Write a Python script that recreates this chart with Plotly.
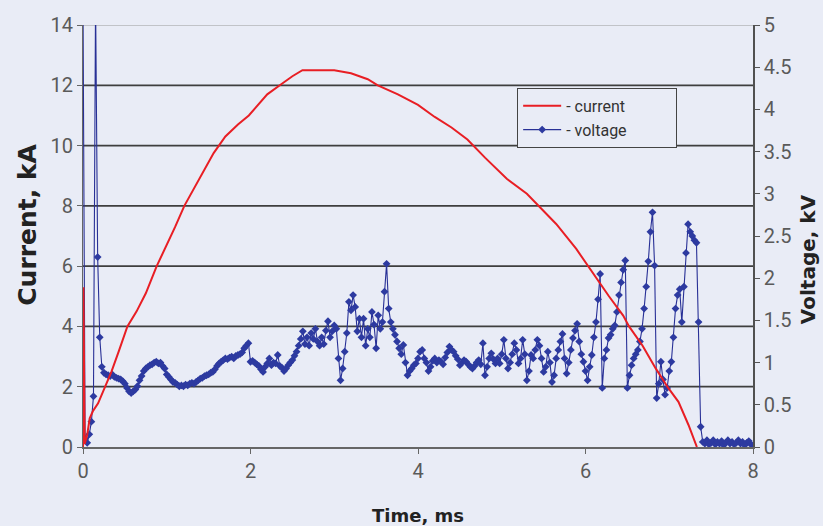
import plotly.graph_objects as go

# ---------------- data ----------------
time_step_ms = 0.025          # voltage sample interval (ms), starting at t = 0
voltage_kv = [
    5.30, 0.10, 0.05, 0.15, 0.30, 0.60, 5.30, 2.25, 1.30, 0.95,
    0.88, 0.86, 0.85, 0.84, 0.86, 0.83, 0.82, 0.81, 0.80, 0.78,
    0.75, 0.70, 0.66, 0.64, 0.66, 0.68, 0.72, 0.79, 0.84, 0.90,
    0.93, 0.95, 0.97, 0.98, 1.00, 1.01, 0.99, 1.00, 0.96, 0.93,
    0.86, 0.83, 0.80, 0.77, 0.76, 0.74, 0.72, 0.73, 0.72, 0.74,
    0.73, 0.75, 0.76, 0.75, 0.77, 0.79, 0.81, 0.82, 0.84, 0.85,
    0.86, 0.88, 0.89, 0.92, 0.96, 0.99, 1.01, 1.03, 1.05, 1.04,
    1.06, 1.07, 1.05, 1.08, 1.09, 1.10, 1.12, 1.17, 1.20, 1.23,
    1.01, 1.02, 1.00, 0.98, 0.96, 0.92, 0.89, 0.95, 0.99, 1.05,
    0.97, 1.00, 0.99, 1.09, 0.96, 0.94, 0.90, 0.93, 0.97, 1.00,
    1.03, 1.08, 1.13, 1.20, 1.28, 1.37, 1.22, 1.30, 1.20, 1.35,
    1.28, 1.40, 1.25, 1.20, 1.30, 1.22, 1.38, 1.49, 1.30, 1.37,
    1.44, 1.40, 1.05, 0.79, 0.93, 1.13, 1.35, 1.72, 1.62, 1.80,
    1.66, 1.37, 1.52, 1.30, 1.52, 1.20, 1.40, 1.30, 1.60, 1.45,
    1.17, 1.56, 1.40, 1.48, 1.84, 2.17, 1.64, 1.48, 1.40, 1.33,
    1.25, 1.17, 1.10, 1.21, 1.00, 0.85, 0.90, 0.93, 0.97, 0.99,
    1.05, 1.13, 1.15, 1.05, 1.00, 0.90, 0.95, 1.02, 1.05, 1.00,
    1.03, 1.01, 0.98, 1.06, 1.12, 1.19, 1.15, 1.13, 1.08, 1.04,
    0.97, 1.00, 1.03, 1.01, 0.98, 0.95, 0.93, 0.96, 1.00, 1.03,
    0.98, 1.23, 0.85, 0.95, 1.05, 1.11, 1.04, 0.99, 1.05, 0.99,
    1.10, 1.27, 1.05, 0.93, 1.00, 1.10, 1.23, 1.15, 0.99, 1.05,
    1.27, 1.10, 0.79, 0.90, 1.09, 1.05, 1.15, 1.27, 1.20, 1.05,
    0.89, 0.95, 1.13, 1.00, 0.77, 0.85, 1.05, 1.15, 1.25, 1.34,
    1.05, 0.87, 1.00, 1.15, 1.29, 1.38, 1.46, 1.25, 1.10, 1.01,
    0.90, 0.79, 0.95, 1.09, 1.30, 1.48, 1.75, 2.05, 0.70, 1.05,
    1.15, 1.29, 1.33, 1.40, 1.44, 1.60, 1.80, 1.95, 2.10, 2.21,
    0.70, 0.85, 0.97, 1.05, 1.10, 1.15, 1.25, 1.40, 1.64, 1.90,
    2.20, 2.55, 2.78, 2.15, 0.58, 0.75, 1.01, 0.80, 0.62, 0.70,
    0.90, 1.01, 1.30, 1.64, 1.80, 1.87, 1.48, 1.90, 2.30, 2.64,
    2.55, 2.50, 2.45, 2.42, 1.48, 0.24, 0.06, 0.04, 0.08, 0.03,
    0.05, 0.08, 0.03, 0.06, 0.04, 0.07, 0.02, 0.05, 0.08, 0.04,
    0.06, 0.03, 0.05, 0.08, 0.04, 0.06, 0.02, 0.05, 0.07, 0.03,
    0.02,
]

current_t_ms = [0, 0.005, 0.02, 0.05, 0.08, 0.12, 0.18, 0.25, 0.34, 0.43,
                0.53, 0.64, 0.75, 0.88, 1.0, 1.1, 1.21, 1.33, 1.45, 1.56,
                1.7, 1.85, 1.98, 2.1, 2.2, 2.35, 2.5, 2.62, 2.8, 3.0,
                3.2, 3.3, 3.4, 3.52, 3.65, 3.76, 4.0, 4.2, 4.4, 4.59,
                4.8, 5.06, 5.3, 5.47, 5.65, 5.89, 6.03, 6.16, 6.28, 6.45,
                6.52, 6.68, 6.84, 6.99, 7.11, 7.23, 7.33]
current_ka = [0, 5.3, 0.1, 0.4, 0.95, 1.2, 1.45, 1.9, 2.5, 3.2,
              4.0, 4.5, 5.1, 6.0, 6.7, 7.3, 8.0, 8.6, 9.2, 9.75,
              10.3, 10.7, 11.0, 11.4, 11.7, 12.0, 12.3, 12.5, 12.5, 12.5,
              12.4, 12.3, 12.2, 12.0, 11.85, 11.7, 11.35, 10.95, 10.6, 10.2,
              9.6, 8.9, 8.4, 7.9, 7.4, 6.57, 6.0, 5.48, 5.0, 4.36,
              4.0, 3.37, 2.6, 1.95, 1.5, 0.73, 0.0]

time_ticks = [0, 2, 4, 6, 8]
current_ticks = [0, 2, 4, 6, 8, 10, 12, 14]
voltage_ticks = [0, 0.5, 1, 1.5, 2, 2.5, 3, 3.5, 4, 4.5, 5]
voltage_tick_text = ["0", "0.5", "1", "1.5", "2", "2.5", "3", "3.5", "4", "4.5", "5"]

# ---------------- style ----------------
BG = "rgb(233,236,246)"
TICK_FONT = dict(family="Roboto", size=20, color="#5a5a5a")
TITLE_FAMILY = "DejaVu Sans"
AXIS_GRAY = "#666666"
BLUE = "rgb(40,48,150)"
RED = "rgb(232,30,36)"
NBSP = "\u00a0"

fig = go.Figure()

fig.add_trace(go.Scatter(
    x0=0, dx=time_step_ms, y=voltage_kv, yaxis="y",
    mode="lines+markers", name="- voltage" + NBSP * 11, legendrank=2,
    line=dict(color=BLUE, width=1.1),
    marker=dict(symbol="diamond", size=6, color="rgb(45,58,160)"),
))
fig.add_trace(go.Scatter(
    x=current_t_ms, y=current_ka, yaxis="y2",
    mode="lines", name="- current", legendrank=1,
    line=dict(color=RED, width=2),
))

# horizontal gridlines on the current scale
shapes = []
for v in current_ticks[1:]:
    top = v == current_ticks[-1]
    shapes.append(dict(type="line", xref="paper", x0=0, x1=1, yref="y2", y0=v, y1=v,
                       layer="below",
                       line=dict(color="#9a9a9a" if top else "#3e3e3e", width=1 if top else 1.8)))

annotations = [
    dict(text="<b>Time, ms</b>", xref="paper", yref="paper", x=0.5, y=-0.162,
         xanchor="center", yanchor="middle", showarrow=False,
         font=dict(family=TITLE_FAMILY, size=18, color="#222222")),
    dict(text="<b>Current, kA</b>", xref="paper", yref="paper", x=-0.084, y=0.526,
         xanchor="center", yanchor="middle", showarrow=False, textangle=-90,
         font=dict(family=TITLE_FAMILY, size=25, color="#222222")),
    dict(text="<b>Voltage, kV</b>", xref="paper", yref="paper", x=1.082, y=0.445,
         xanchor="center", yanchor="middle", showarrow=False, textangle=-90,
         font=dict(family=TITLE_FAMILY, size=20, color="#222222")),
]

fig.update_layout(
    width=823, height=526,
    margin=dict(l=83, r=70, t=25, b=79, autoexpand=False),
    paper_bgcolor=BG, plot_bgcolor=BG,
    shapes=shapes, annotations=annotations,
    showlegend=True,
    legend=dict(x=0.648, y=0.851, xanchor="left", yanchor="top",
                bgcolor=BG, bordercolor="#444444", borderwidth=1,
                font=dict(family="Roboto", size=16, color="#333333"),
                itemwidth=38, tracegroupgap=2),
    xaxis=dict(range=[0, 8], tickvals=time_ticks, ticks="outside", ticklen=5,
               tickcolor=AXIS_GRAY, showline=True, linecolor=AXIS_GRAY, linewidth=1.5,
               showgrid=False, zeroline=False, tickfont=TICK_FONT, automargin=False),
    yaxis=dict(range=[0, 5], side="right", tickvals=voltage_ticks, ticktext=voltage_tick_text,
               ticks="outside", ticklen=5, tickcolor="#555555",
               showline=True, linecolor="#505050", linewidth=1.5,
               showgrid=False, zeroline=False, tickfont=TICK_FONT, automargin=False),
    yaxis2=dict(range=[0, 14], overlaying="y", side="left", tickvals=current_ticks,
                ticks="outside", ticklen=5, tickcolor=AXIS_GRAY,
                showline=True, linecolor=AXIS_GRAY, linewidth=1,
                showgrid=False, zeroline=False, tickfont=TICK_FONT, automargin=False),
    yaxis3=dict(range=[0, 5], overlaying="y", side="right", tickvals=voltage_ticks,
                ticks="inside", ticklen=5, tickcolor="#555555", showticklabels=False,
                showline=False, showgrid=False, zeroline=False, automargin=False),
)

fig.write_html(
    "out.html",
    config={"displayModeBar": False},
    post_script="document.body.style.margin='0';document.body.style.background='rgb(233,236,246)';",
)
